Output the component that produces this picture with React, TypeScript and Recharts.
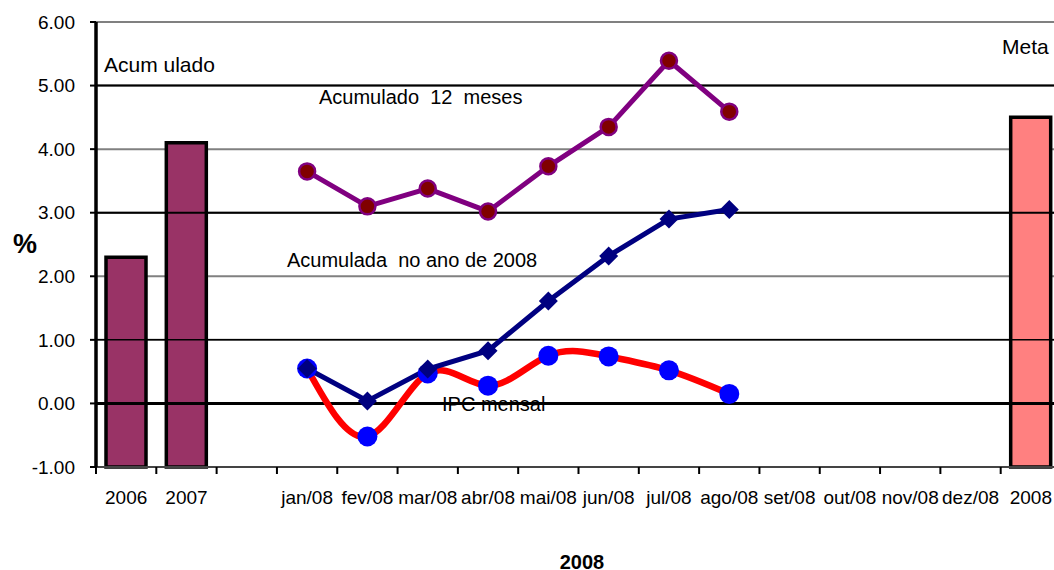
import React from 'react';
import { ComposedChart, Bar, Line, XAxis, YAxis, CartesianGrid, ReferenceLine, Cell } from 'recharts';

const categories = ['2006', '2007', '', 'jan/08', 'fev/08', 'mar/08', 'abr/08', 'mai/08', 'jun/08', 'jul/08', 'ago/08', 'set/08', 'out/08', 'nov/08', 'dez/08', '2008'];
const acumuladoAnos = [2.3, 4.1];
const meta2008 = 4.5;
const acumulado12Meses = [3.65, 3.1, 3.38, 3.02, 3.73, 4.35, 5.39, 4.59];
const acumuladaNoAno = [0.55, 0.04, 0.54, 0.83, 1.61, 2.32, 2.9, 3.05];
const ipcMensal = [0.55, -0.52, 0.47, 0.28, 0.75, 0.74, 0.52, 0.15];
const yTicks = [-1, 0, 1, 2, 3, 4, 5, 6];
const AXIS_MIN = -1;
const MONTH_START = 3;

const data = categories.map((c, i) => {
  let bar: number | null = null;
  if (i < acumuladoAnos.length) bar = acumuladoAnos[i];
  if (i === categories.length - 1) bar = meta2008;
  const m = i - MONTH_START;
  return {
    cat: c,
    bar: bar === null ? null : [AXIS_MIN, bar],
    a12: m >= 0 && m < acumulado12Meses.length ? acumulado12Meses[m] : null,
    ano: m >= 0 && m < acumuladaNoAno.length ? acumuladaNoAno[m] : null,
    ipc: m >= 0 && m < ipcMensal.length ? ipcMensal[m] : null,
  };
});

const FONT = '"Liberation Sans", Arial, Helvetica, sans-serif';
const W = 1061;
const H = 570;
const ML = 8;
const MT = 22;
const YW = 88;
const PLOT_H = 445;
const BAND = (W - ML - YW) / categories.length;

const XTick = (props: any) => {
  const { x, y, payload } = props;
  return (
    <g>
      <line x1={x - BAND / 2} x2={x - BAND / 2} y1={y} y2={y + 7} stroke="#000" strokeWidth={2} />
      <text x={x} y={y + 37} textAnchor="middle" fontSize={19} fontFamily={FONT} fill="#000">
        {payload.value}
      </text>
    </g>
  );
};

const Diamond = (props: any) => {
  const { cx, cy } = props;
  if (cx == null || cy == null) return null;
  const d = 9.5;
  return <polygon points={`${cx},${cy - d} ${cx + d},${cy} ${cx},${cy + d} ${cx - d},${cy}`} fill="#000080" />;
};

export default function App() {
  return (
    <div style={{ position: 'absolute', left: 0, top: 0, width: 1054, height: 570, overflow: 'hidden', background: '#fff' }}>
      <ComposedChart width={W} height={H} data={data} margin={{ top: MT, right: 0, bottom: 0, left: ML }}>
        <CartesianGrid vertical={false} stroke="#808080" strokeWidth={2} />
        <ReferenceLine y={5} stroke="#000" strokeWidth={2} />
        <ReferenceLine y={3} stroke="#000" strokeWidth={2} />
        <ReferenceLine y={1} stroke="#000" strokeWidth={1.5} />
        <ReferenceLine y={0} stroke="#000" strokeWidth={3} />
        <XAxis
          dataKey="cat"
          interval={0}
          height={H - MT - PLOT_H}
          tickSize={0}
          tickMargin={0}
          tickLine={false}
          tick={<XTick />}
          axisLine={{ stroke: '#444', strokeWidth: 2 }}
        />
        <YAxis
          width={YW}
          domain={[-1, 6]}
          ticks={yTicks}
          interval={0}
          tickFormatter={(v: number) => v.toFixed(2)}
          tick={{ fontSize: 19, fontFamily: FONT, fill: '#000' }}
          tickSize={6}
          tickMargin={15}
          tickLine={{ stroke: '#000', strokeWidth: 2 }}
          axisLine={{ stroke: '#000', strokeWidth: 3.5 }}
        />
        <Bar dataKey="bar" barSize={40} stroke="#000" strokeWidth={3.5} isAnimationActive={false}>
          {data.map((d, i) => (
            <Cell key={i} fill={i === categories.length - 1 ? '#FF8080' : '#993366'} />
          ))}
        </Bar>
        <Line dataKey="ipc" type="natural" stroke="#FF0000" strokeWidth={6.5} dot={{ r: 10, fill: '#0000FF', stroke: '#0000FF', strokeWidth: 0 }} isAnimationActive={false} />
        <Line dataKey="a12" type="linear" stroke="#800080" strokeWidth={5} dot={{ r: 8, fill: '#800000', stroke: '#800080', strokeWidth: 2.5 }} isAnimationActive={false} />
        <Line dataKey="ano" type="linear" stroke="#000080" strokeWidth={5} dot={<Diamond />} isAnimationActive={false} />
        <text x={104} y={72} fontSize={21} fontFamily={FONT} fill="#000">Acum ulado</text>
        <text x={1002} y={54} fontSize={21} fontFamily={FONT} fill="#000">Meta</text>
        <text x={319} y={104} fontSize={20} fontFamily={FONT} fill="#000">{'Acumulado\u00a0 12\u00a0 meses'}</text>
        <text x={287} y={267} fontSize={20} fontFamily={FONT} fill="#000">{'Acumulada\u00a0 no ano de 2008'}</text>
        <text x={442} y={411} fontSize={20} fontFamily={FONT} fill="#000">IPC mensal</text>
        <text x={13} y={253} fontSize={27} fontWeight="bold" fontFamily={FONT} fill="#000">%</text>
        <text x={582} y={569} textAnchor="middle" fontSize={20} fontWeight="bold" fontFamily={FONT} fill="#000">2008</text>
      </ComposedChart>
    </div>
  );
}
